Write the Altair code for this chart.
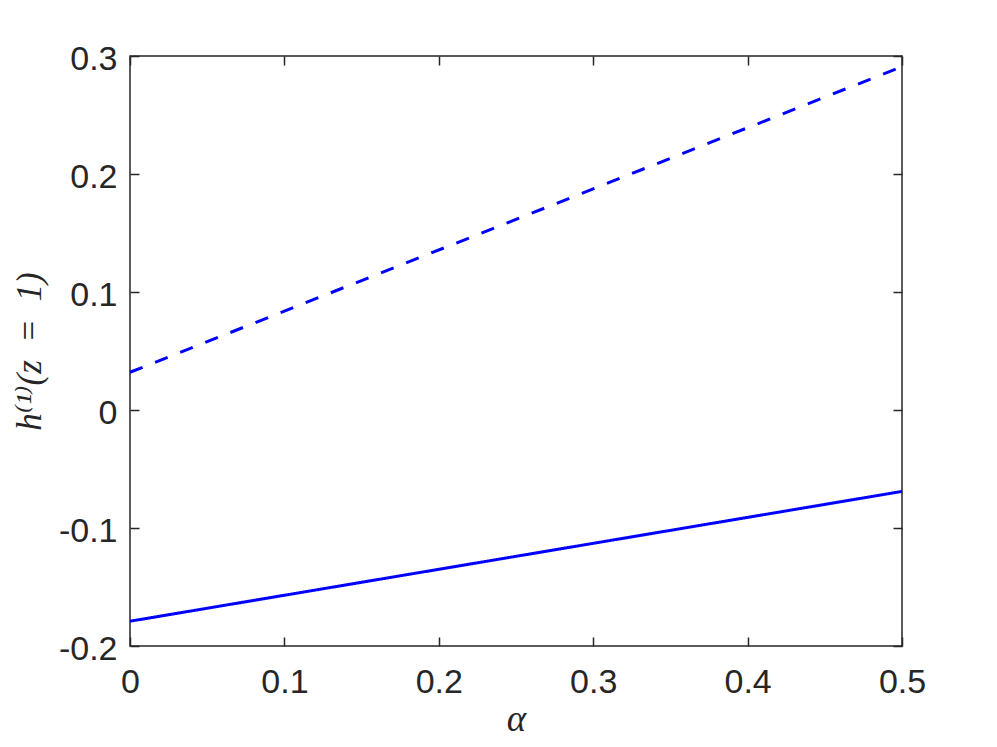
import altair as alt
import pandas as pd

# data
alpha = [0.0, 0.5]
h_dashed = [0.032, 0.291]
h_solid = [-0.179, -0.069]
x_ticks = [0, 0.1, 0.2, 0.3, 0.4, 0.5]
y_ticks = [-0.2, -0.1, 0, 0.1, 0.2, 0.3]

rows = [{"alpha": a, "h": v, "series": "dashed"} for a, v in zip(alpha, h_dashed)]
rows += [{"alpha": a, "h": v, "series": "solid"} for a, v in zip(alpha, h_solid)]
df = pd.DataFrame(rows)

AX = "#262626"
FONT = "Liberation Sans"
SERIF = "Liberation Serif, DejaVu Serif, serif"

xs = alt.Scale(domain=[0, 0.5], nice=False, zero=False)
ys = alt.Scale(domain=[-0.2, 0.3], nice=False, zero=False)
lab = "'' + datum.value"

x_main = alt.Axis(orient="bottom", values=x_ticks, ticks=False, tickSize=0, domain=False,
                  grid=False, labelFont=FONT, labelFontSize=34, labelColor=AX,
                  labelPadding=19, labelExpr=lab, labelFlush=False, labelOverlap=False,
                  title="α", titleFont=SERIF, titleFontStyle="italic",
                  titleFontWeight="normal", titleFontSize=37, titleColor=AX,
                  titleBaseline="alphabetic", titleY=84)
y_main = alt.Axis(orient="left", values=y_ticks, ticks=False, tickSize=0, domain=False,
                  grid=False, labelFont=FONT, labelFontSize=34, labelColor=AX,
                  labelPadding=13, labelOffset=3, labelExpr=lab, labelFlush=False,
                  labelOverlap=False,
                  title="h⁽¹⁾(z\u2002=\u20021)", titleFont=SERIF, titleFontStyle="italic",
                  titleFontWeight="normal", titleFontSize=35, titleColor=AX,
                  titleBaseline="alphabetic", titleX=-90)


def tick_axis(orient, vals):
    return alt.Axis(orient=orient, values=vals, ticks=True, tickSize=9, tickColor=AX,
                    tickWidth=1.5, domain=False, labels=False, grid=False, title=None,
                    offset=-9)


lines = alt.Chart(df).mark_line(strokeWidth=3, color="#0000FF", strokeCap="butt").encode(
    x=alt.X("alpha:Q", scale=xs, axis=x_main),
    y=alt.Y("h:Q", scale=ys, axis=y_main),
    strokeDash=alt.StrokeDash("series:N",
                              scale=alt.Scale(domain=["dashed", "solid"],
                                              range=[[13.5, 13.5], [1, 0]]),
                              legend=None),
)

ticks_bl = alt.Chart(df).mark_line(opacity=0).encode(
    x=alt.X("alpha:Q", scale=xs, axis=tick_axis("bottom", x_ticks)),
    y=alt.Y("h:Q", scale=ys, axis=tick_axis("left", y_ticks)),
    detail="series:N",
)
ticks_tr = alt.Chart(df).mark_line(opacity=0).encode(
    x=alt.X("alpha:Q", scale=xs, axis=tick_axis("top", x_ticks)),
    y=alt.Y("h:Q", scale=ys, axis=tick_axis("right", y_ticks)),
    detail="series:N",
)

chart = alt.layer(lines, ticks_bl, ticks_tr).resolve_axis(
    x="independent", y="independent"
).properties(
    width=772, height=590,
    padding={"left": 122, "top": 48, "right": 87, "bottom": 93},
    autosize=alt.AutoSizeParams(type="none"),
    background="white",
).configure_view(stroke=AX, strokeWidth=1.5)

chart.save("out.html", embed_options={"renderer": "svg", "actions": False})
